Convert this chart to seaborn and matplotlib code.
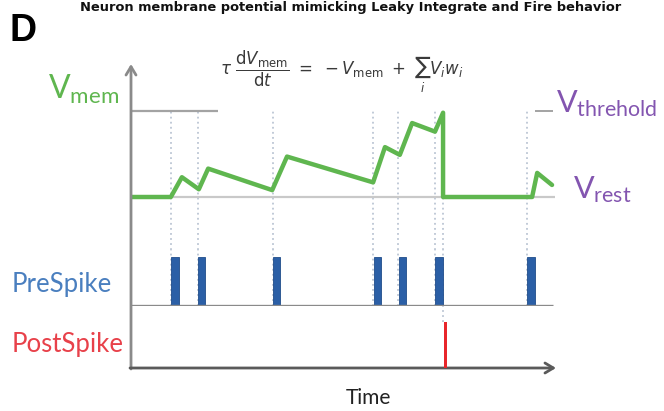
import matplotlib
matplotlib.use("Agg")
import matplotlib.pyplot as plt
import seaborn as sns
import numpy as np
import pandas as pd

# ---------------- data ----------------
# time axis in arbitrary units (0 .. 100)
pre_spike_times = [9.4, 15.7, 33.4, 57.1, 63.0, 71.7, 93.4]
post_spike_times = [73.6]
# membrane potential (0 = V_rest, 1 = V_threshold)
vmem_t = [0.0, 9.4, 12.0, 16.0, 18.2, 33.3, 36.8, 57.1, 59.9, 63.4, 66.3,
          71.7, 73.6, 73.6, 94.6, 95.8, 99.3]
vmem_v = [0.0, 0.0, 0.23, 0.09, 0.33, 0.08, 0.47, 0.17, 0.58, 0.49, 0.86,
          0.76, 0.98, 0.0, 0.0, 0.28, 0.14]
v_rest = 0.0
v_threshold = 1.0
spike_height = 1.0

# ---------------- figure ----------------
sns.set_theme(style="white")
plt.rcParams["font.family"] = ["Lato", "DejaVu Sans"]
plt.rcParams["mathtext.fontset"] = "dejavusans"

W, H = 664, 411
fig = plt.figure(figsize=(W / 100, H / 100), dpi=100)

def frac(x0, y0, x1, y1):
    # pixel box (top-left origin) -> figure fraction rect
    return [x0 / W, 1 - y1 / H, (x1 - x0) / W, (y1 - y0) / H]

XL = (0, 100)
ax_v = fig.add_axes(frac(131, 65, 555, 250))
ax_pre = fig.add_axes(frac(131, 250, 555, 306))
ax_post = fig.add_axes(frac(131, 306, 555, 368))
for a in (ax_v, ax_pre, ax_post):
    a.set_xlim(*XL)
    a.set_axis_off()
    a.patch.set_alpha(0)
ax_v.set_ylim(-53 / 86, 132 / 86)
ax_pre.set_ylim(0, 56 / 49)
ax_post.set_ylim(0, 62 / 46)

green = "#5fb64f"
gray = "#8a8a8a"
dotc = "#bcc6d4"
blue = "#2b5fa6"
red = "#e8262b"
purple = "#8355b0"

# dotted guide lines
ls_dot = (0, (1, 1.8))
ax_v.vlines(pre_spike_times + post_spike_times, ax_v.get_ylim()[0], v_threshold,
            colors=dotc, linestyles=ls_dot, lw=1.3, zorder=1)
ax_pre.vlines(pre_spike_times + post_spike_times, 0, ax_pre.get_ylim()[1],
              colors=dotc, linestyles=ls_dot, lw=1.3, zorder=1)
ax_post.vlines(post_spike_times, 1, ax_post.get_ylim()[1],
               colors=dotc, linestyles=ls_dot, lw=1.3, zorder=1)

# rest and threshold lines
ax_v.hlines(v_rest, 0, 100, colors="#c9c9c9", lw=1.6, zorder=2)
ax_v.hlines(v_threshold, 0, 20.5, colors="#a3a3a3", lw=1.6, zorder=2)
ax_v.hlines(v_threshold, 95.3, 99.5, colors="#a3a3a3", lw=1.4, zorder=2)

# membrane potential trace
df = pd.DataFrame({"t": vmem_t, "v": vmem_v})
sns.lineplot(data=df, x="t", y="v", sort=False, estimator=None, color=green,
             lw=3.2, ax=ax_v, zorder=3)
ax_v.set_axis_off()

# pre-synaptic spikes
ax_pre.bar(np.array(pre_spike_times) + 0.1, spike_height, width=1.75, align="edge",
           color=blue, edgecolor="#1f4c8a", lw=0.6, zorder=3)
ax_pre.hlines(0, 0, 99.5, colors=gray, lw=2.4, zorder=4)

# post-synaptic spike
ax_post.bar(np.array(post_spike_times) + 0.15, spike_height, width=0.75, align="edge",
            color=red, lw=0, zorder=3)

# axes arrows
ax_v.annotate("", xy=(131 / W, 1 - 64 / H), xytext=(131 / W, 1 - 369 / H),
              xycoords="figure fraction", textcoords="figure fraction",
              arrowprops=dict(arrowstyle="->,head_length=0.5,head_width=0.3",
                              color=gray, lw=2.0, shrinkA=0, shrinkB=0))
ax_v.annotate("", xy=(556 / W, 1 - 368 / H), xytext=(130 / W, 1 - 368 / H),
              xycoords="figure fraction", textcoords="figure fraction",
              arrowprops=dict(arrowstyle="->,head_length=0.5,head_width=0.3",
                              color="#5a5a5a", lw=2.0, shrinkA=0, shrinkB=0))

# ---------------- texts ----------------
def ftext(x, y, s, **kw):
    fig.text(x / W, 1 - y / H, s, **kw)

ftext(80, 0.5, "Neuron membrane potential mimicking Leaky Integrate and Fire behavior",
      fontsize=9.4, fontweight="bold", ha="left", va="top", color="#111111",
      family=["DejaVu Sans"])
ftext(10, 31, "D", fontsize=27, fontweight="bold", ha="left", va="center",
      color="black", family=["Liberation Sans", "DejaVu Sans"])
ftext(48, 89, r"$\mathregular{V_{mem}}$", fontsize=23, ha="left", va="center",
      color=green)
ftext(556, 104, r"$\mathregular{V_{threhold}}$", fontsize=22, ha="left", va="center",
      color=purple)
ftext(573, 190, r"$\mathregular{V_{rest}}$", fontsize=22, ha="left", va="center",
      color=purple)
ftext(12, 284, "PreSpike", fontsize=18.5, ha="left", va="center", color="#4a7fbf")
ftext(12, 344, "PostSpike", fontsize=18.5, ha="left", va="center", color="#e8414a")
ftext(368, 398, "Time", fontsize=15, ha="center", va="center", color="#222222")
ftext(342, 72, r"$\tau\ \dfrac{\mathrm{d}V_{\mathrm{mem}}}{\mathrm{d}t}\ =\ -V_{\mathrm{mem}}\ +\ \sum_{i} V_i w_i$",
      fontsize=12, ha="center", va="center", color="#3a3a3a")

fig.savefig("out.png", dpi=100)
